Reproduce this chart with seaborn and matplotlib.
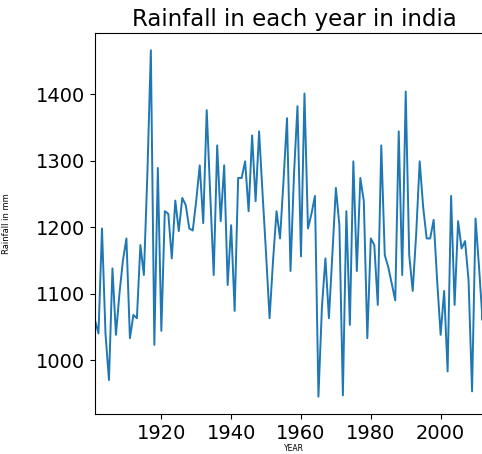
import matplotlib
matplotlib.use("Agg")
import matplotlib.pyplot as plt
import seaborn as sns
import numpy as np
import pandas as pd

years = list(range(1901, 2016))
rainfall = [
    1060, 1040, 1198, 1040, 970, 1138, 1038, 1100, 1150, 1183,
    1033, 1068, 1063, 1173, 1128, 1280, 1466, 1023, 1289, 1044,
    1224, 1220, 1153, 1240, 1194, 1244, 1233, 1198, 1195, 1240,
    1293, 1206, 1376, 1250, 1128, 1323, 1209, 1293, 1113, 1203,
    1074, 1274, 1274, 1299, 1224, 1338, 1239, 1344, 1250, 1160,
    1063, 1150, 1224, 1183, 1270, 1364, 1134, 1280, 1382, 1156,
    1401, 1198, 1220, 1247, 945, 1080, 1153, 1063, 1160, 1259,
    1203, 947, 1224, 1053, 1299, 1134, 1274, 1239, 1033, 1183,
    1173, 1083, 1323, 1158, 1140, 1115, 1090, 1344, 1128, 1404,
    1158, 1104, 1190, 1299, 1230, 1183, 1183, 1211, 1120, 1038,
    1104, 983, 1247, 1083, 1209, 1168, 1179, 1120, 953, 1213,
    1140, 1060, 1200, 1080, 1040,
]

df = pd.DataFrame({"YEAR": years, "ANNUAL": rainfall})

fig = plt.figure(figsize=(4.82, 4.54), dpi=100)
ax = fig.add_axes([95 / 482, 1 - 414 / 454, (493 - 95) / 482, (414 - 33) / 454])
sns.lineplot(data=df, x="YEAR", y="ANNUAL", ax=ax, color="#1f77b4", linewidth=1.4)
ax.set_xlim(1901, 2015)
ax.set_title("Rainfall in each year in india", fontsize=16.5, pad=5)
ax.set_xlabel("YEAR", fontsize=5.5, labelpad=1)
ax.set_ylabel("Rainfall in mm", fontsize=6)
ax.yaxis.set_label_coords(-0.21, 0.5)
ax.tick_params(axis="both", labelsize=14)
ax.set_xticks([1920, 1940, 1960, 1980, 2000])
ax.set_yticks([1000, 1100, 1200, 1300, 1400])
fig.savefig("out.png", dpi=100)
